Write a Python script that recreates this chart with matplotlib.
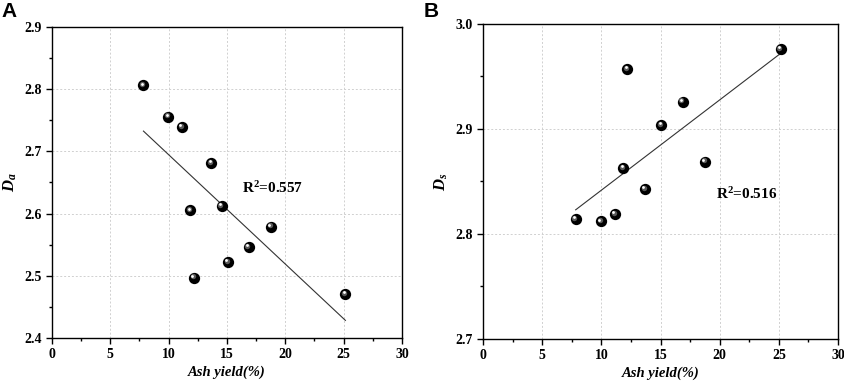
import numpy as np
import matplotlib
matplotlib.use("Agg")
import matplotlib.pyplot as plt
from matplotlib.transforms import offset_copy

plt.rcParams['font.family'] = 'Liberation Serif'
plt.rcParams['font.weight'] = 'bold'
plt.rcParams['mathtext.fontset'] = 'custom'
plt.rcParams['mathtext.rm'] = 'Liberation Serif:bold'
plt.rcParams['mathtext.it'] = 'Liberation Serif:bold:italic'

# panel A data
ash_a = [7.84, 9.98, 11.15, 13.66, 11.86, 14.54, 18.76, 16.85, 15.08, 12.18, 25.15]
da = [2.806, 2.756, 2.739, 2.681, 2.605, 2.612, 2.579, 2.546, 2.522, 2.497, 2.471]

# panel B data
ash_b = [7.83, 9.97, 11.15, 11.86, 13.69, 12.20, 15.07, 16.87, 18.76, 25.15]
ds = [2.814, 2.812, 2.819, 2.863, 2.843, 2.957, 2.904, 2.926, 2.869, 2.976]

r2_a = "0.557"
r2_b = "0.516"


def spheres(ax, x, y):
    fig = ax.figure
    ax.scatter(x, y, s=66, c='black', zorder=4, linewidths=0)
    t1 = offset_copy(ax.transData, fig=fig, x=-0.9, y=0.9, units='points')
    ax.scatter(x, y, s=15, c='#5a5a5a', zorder=5, linewidths=0, transform=t1)
    t2 = offset_copy(ax.transData, fig=fig, x=-1.3, y=1.3, units='points')
    ax.scatter(x, y, s=4, c='white', zorder=6, linewidths=0, transform=t2)


def style(ax, ylim, yticks, ylabel):
    ax.set_xlim(0, 30)
    ax.set_ylim(*ylim)
    ax.set_xticks(range(0, 31, 5))
    ax.set_xticks(np.arange(0, 30.1, 2.5), minor=True)
    ax.set_yticks(yticks)
    ax.set_yticks(np.arange(ylim[0], ylim[1] + 0.001, 0.05), minor=True)
    ax.set_yticklabels(["%.1f" % v for v in yticks])
    ax.tick_params(which='major', direction='out', length=4, width=1, labelsize=10)
    ax.tick_params(which='minor', direction='out', length=2.5, width=1)
    ax.grid(True, which='major', color='#d0d0d0', linestyle=(0, (2, 2)), linewidth=0.7)
    ax.set_axisbelow(True)
    for sp in ax.spines.values():
        sp.set_linewidth(1.0)
    ax.set_xlabel('Ash yield(%)', fontsize=10.5, style='italic', fontweight='bold', labelpad=3)
    ax.set_ylabel(ylabel, fontsize=12, labelpad=4)


def fitline(ax, x, y):
    k, b = np.polyfit(x, y, 1)
    xs = np.array([min(x), max(x)])
    ax.plot(xs, k * xs + b, color='#333333', linewidth=0.8, zorder=3)


fig = plt.figure(figsize=(8.44, 3.84), dpi=100)

ax1 = fig.add_axes([0.0616, 0.1198, 0.4147, 0.8099])
style(ax1, (2.4, 2.9), [2.4, 2.5, 2.6, 2.7, 2.8, 2.9], r'$D_a$')
fitline(ax1, ash_a, da)
spheres(ax1, ash_a, da)
ax1.text(16.25, 2.641, r'R$^{2}$=' + r2_a, fontsize=11, va='center', ha='left')

ax2 = fig.add_axes([0.5723, 0.1172, 0.4206, 0.8203])
style(ax2, (2.7, 3.0), [2.7, 2.8, 2.9, 3.0], r'$D_s$')
fitline(ax2, ash_b, ds)
spheres(ax2, ash_b, ds)
ax2.text(19.7, 2.838, r'R$^{2}$=' + r2_b, fontsize=11, va='center', ha='left')

fig.text(0.002, 0.995, 'A', fontsize=15, fontweight='bold', family='Liberation Sans', va='top')
fig.text(0.502, 0.995, 'B', fontsize=15, fontweight='bold', family='Liberation Sans', va='top')

fig.savefig('out.png', dpi=100)
